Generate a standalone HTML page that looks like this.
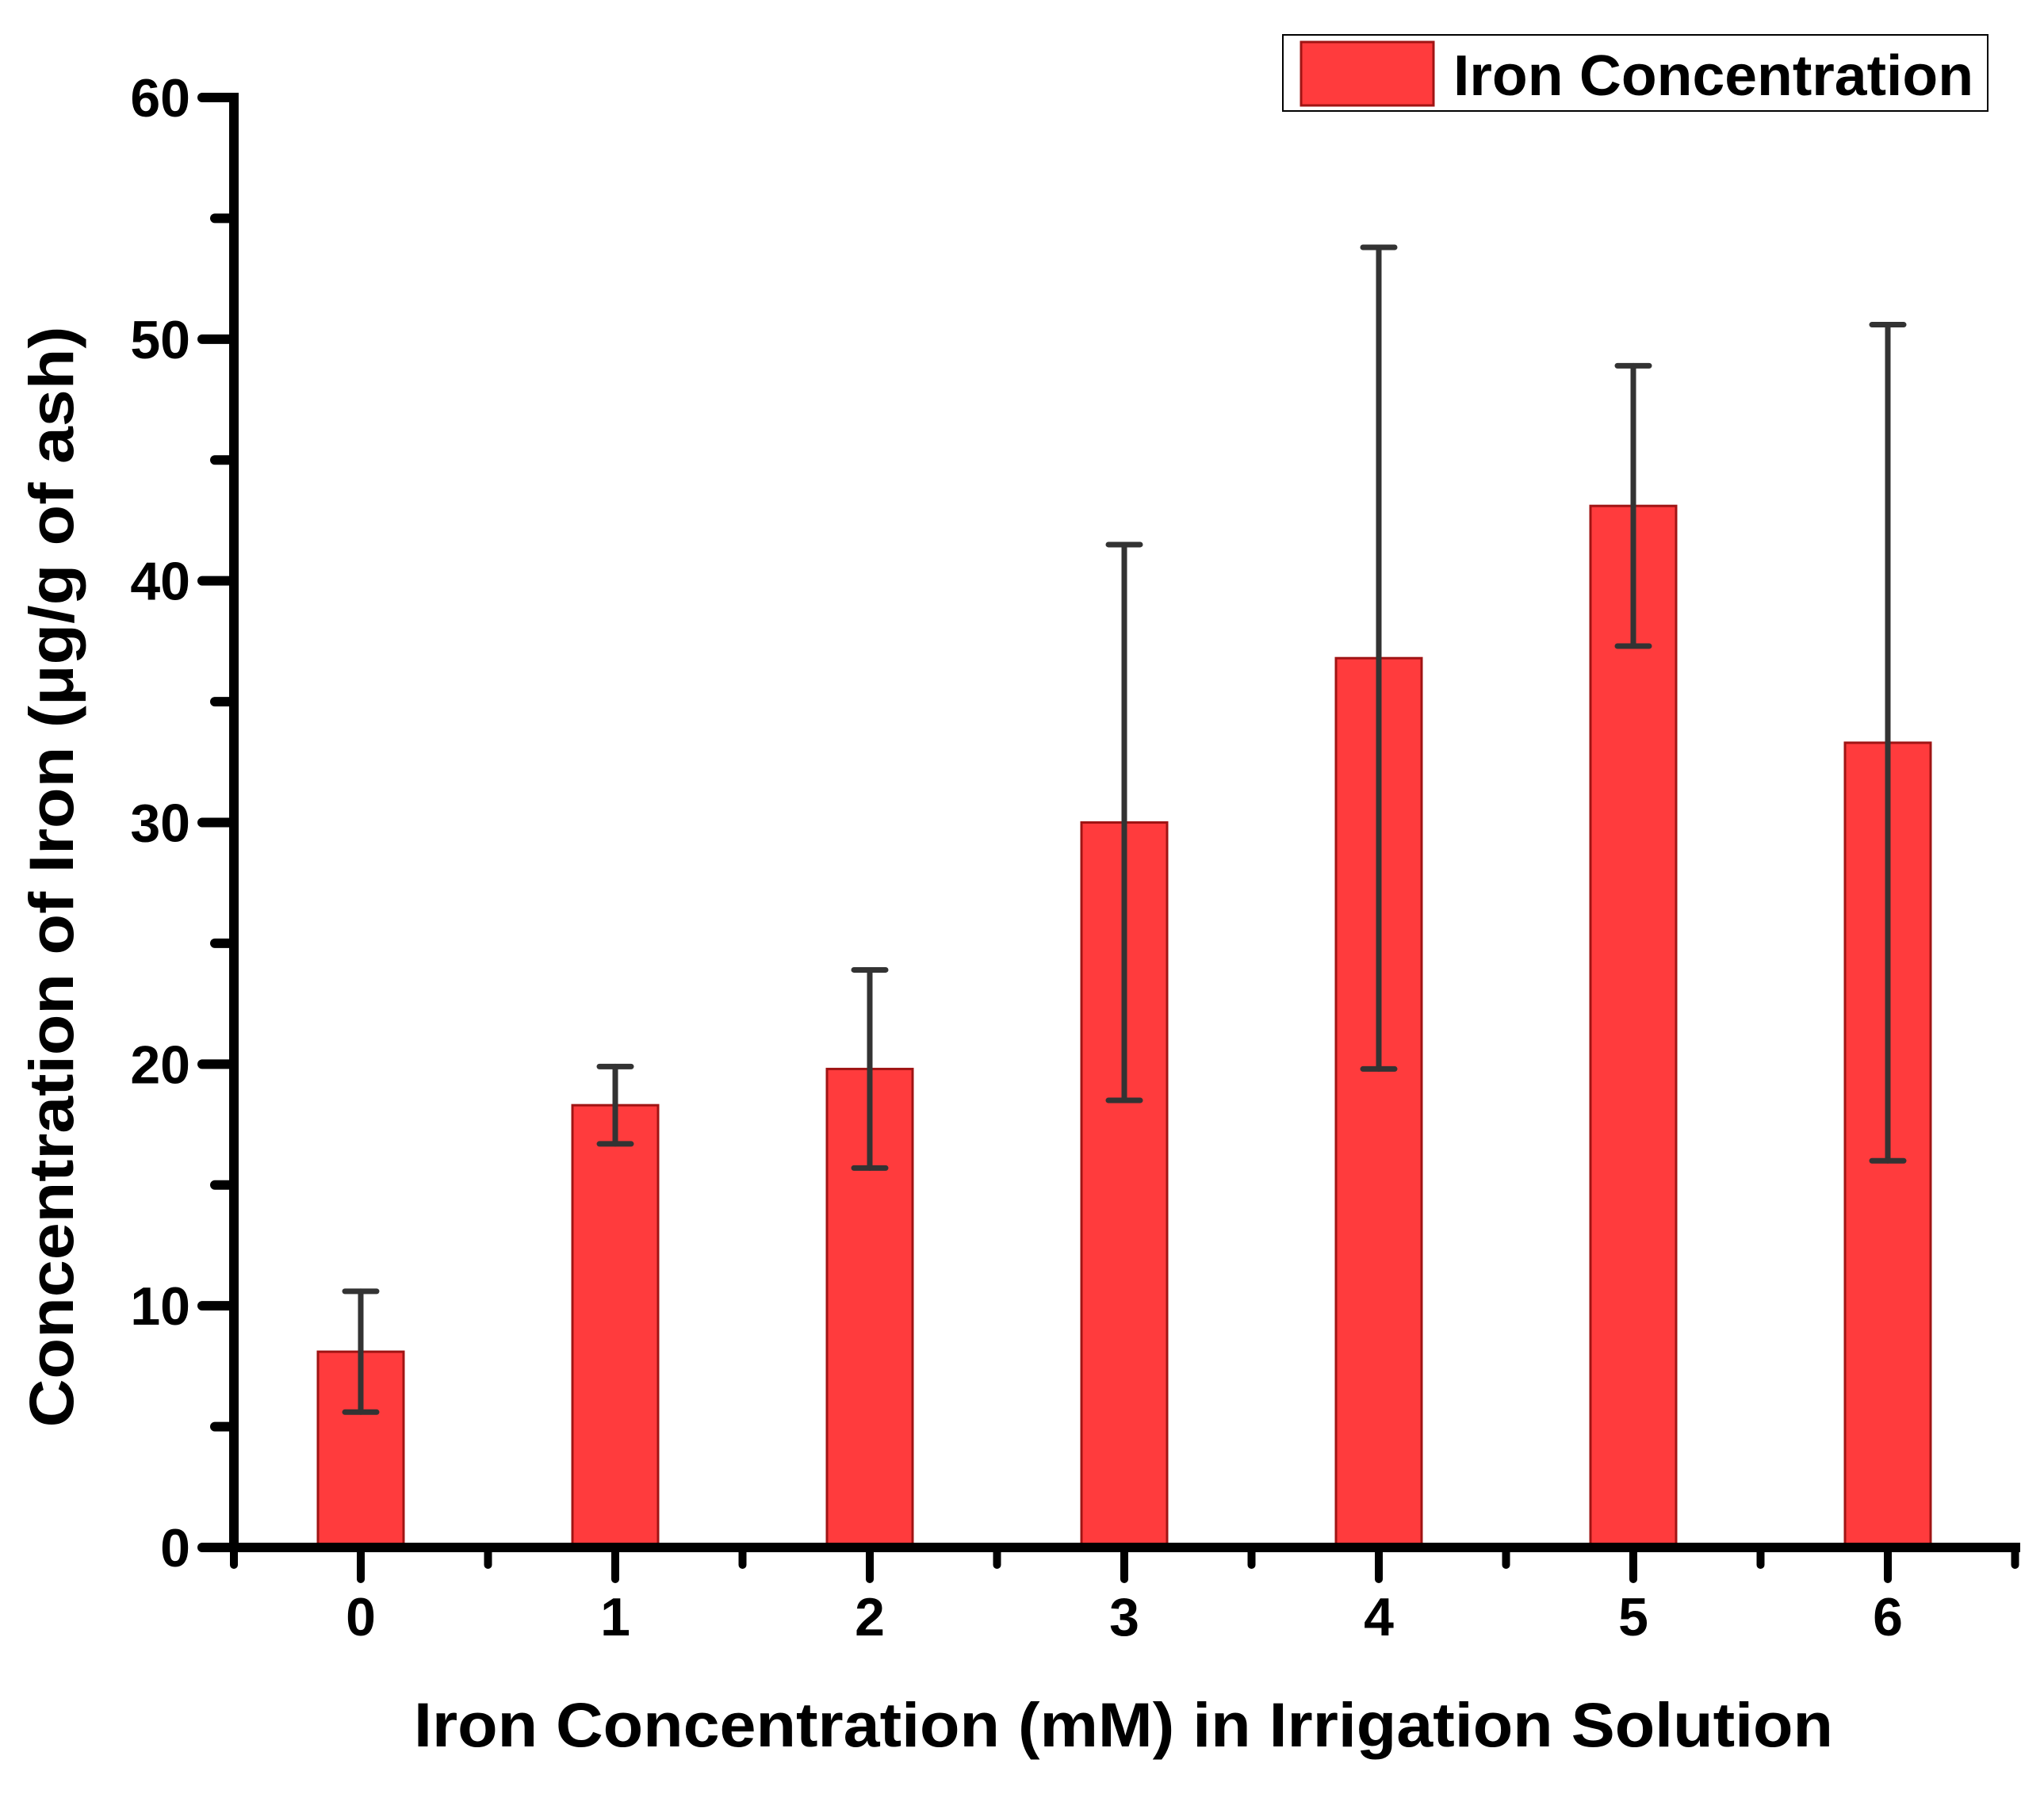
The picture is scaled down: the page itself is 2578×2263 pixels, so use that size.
<!DOCTYPE html>
<html><head><meta charset="utf-8"><style>
html,body{margin:0;padding:0;background:#fff;}
svg{display:block;font-family:"Liberation Sans",Arial,sans-serif;font-weight:bold;}
</style></head><body>
<svg id="chart" width="2578" height="2263" viewBox="0 0 2578 2263" xmlns="http://www.w3.org/2000/svg">
<g id="bars"></g>
<g id="errs"></g>
<g id="axes"></g>
<text x="1417" y="2203" text-anchor="middle" font-size="79" textLength="1790" lengthAdjust="spacingAndGlyphs">Iron Concentration (mM) in Irrigation Solution</text>
<text transform="translate(92,1106) rotate(-90)" text-anchor="middle" font-size="79" textLength="1389" lengthAdjust="spacingAndGlyphs">Concentration of Iron (μg/g of ash)</text>
<g>
<rect x="1618" y="44" width="889" height="96" fill="#fff" stroke="#000" stroke-width="2"/>
<rect x="1641" y="53" width="167" height="80" fill="#ff3b3d" stroke="#a01414" stroke-width="3"/>
<text x="1833" y="120" font-size="72" textLength="656" lengthAdjust="spacingAndGlyphs">Iron Concentration</text>
</g>
</svg>
<script>
const categories = ["0","1","2","3","4","5","6"];
const values = [8.1, 18.3, 19.8, 30.0, 36.8, 43.1, 33.3];
const errors = [2.5, 1.6, 4.1, 11.5, 17.0, 5.8, 17.3];
const yTicks = [0,10,20,30,40,50,60];

const NS = "http://www.w3.org/2000/svg";
const x0 = 295, yZero = 1952, yTop = 123, yMax = 60;
const cat0 = 455, catStep = 321, barW = 108, xEnd = 2548;
const yScale = v => yZero - (yZero - yTop) * v / yMax;
const xScale = i => cat0 + catStep * i;
function mk(tag, attrs, parent) {
  const e = document.createElementNS(NS, tag);
  for (const k in attrs) e.setAttribute(k, attrs[k]);
  parent.appendChild(e);
  return e;
}
const bars = document.getElementById('bars'), errs = document.getElementById('errs'), axes = document.getElementById('axes');
values.forEach((v, i) => {
  const cx = xScale(i), y = yScale(v);
  const r = mk('rect', {x: cx - barW/2, y: y, width: barW, height: yZero - y, fill: '#ff3b3d', stroke: '#a01414', 'stroke-width': 3}, bars);
  
  
  const g = mk('g', {stroke: '#333', 'stroke-width': 7, 'stroke-linecap': 'round'}, errs);
  
  
  const yh = yScale(v + errors[i]), yl = yScale(v - errors[i]);
  mk('line', {x1: cx, x2: cx, y1: yh, y2: yl}, g);
  mk('line', {x1: cx - 20, x2: cx + 20, y1: yh, y2: yh}, g);
  mk('line', {x1: cx - 20, x2: cx + 20, y1: yl, y2: yl}, g);
});
const ya = mk('line', {x1: x0, x2: x0, y1: yTop - 6, y2: yZero + 6, stroke: '#000', 'stroke-width': 12}, axes);


const xa = mk('line', {x1: x0 - 6, x2: xEnd, y1: yZero, y2: yZero, stroke: '#000', 'stroke-width': 12}, axes);


yTicks.forEach(t => {
  const y = yScale(t);
  mk('line', {x1: x0 - 40, x2: x0, y1: y, y2: y, stroke: '#000', 'stroke-width': 12, 'stroke-linecap': 'round'}, axes);
  const lb = mk('text', {x: 240, y: y + 24, 'text-anchor': 'end', 'font-size': 68}, axes);
  lb.textContent = t;
  
  
  if (t < yMax) {
    const ym = yScale(t + 5);
    mk('line', {x1: x0 - 24, x2: x0, y1: ym, y2: ym, stroke: '#000', 'stroke-width': 12, 'stroke-linecap': 'round'}, axes);
  }
});
categories.forEach((c, i) => {
  const cx = xScale(i);
  mk('line', {x1: cx, x2: cx, y1: yZero, y2: yZero + 40, stroke: '#000', 'stroke-width': 10, 'stroke-linecap': 'round'}, axes);
  mk('line', {x1: cx + catStep/2, x2: cx + catStep/2, y1: yZero, y2: yZero + 22, stroke: '#000', 'stroke-width': 10, 'stroke-linecap': 'round'}, axes);
  const lb = mk('text', {x: cx, y: 2063, 'text-anchor': 'middle', 'font-size': 68}, axes);
  lb.textContent = c;
  
  
});
mk('line', {x1: x0, x2: x0, y1: yZero, y2: yZero + 22, stroke: '#000', 'stroke-width': 10, 'stroke-linecap': 'round'}, axes);
</script>
</body></html>
